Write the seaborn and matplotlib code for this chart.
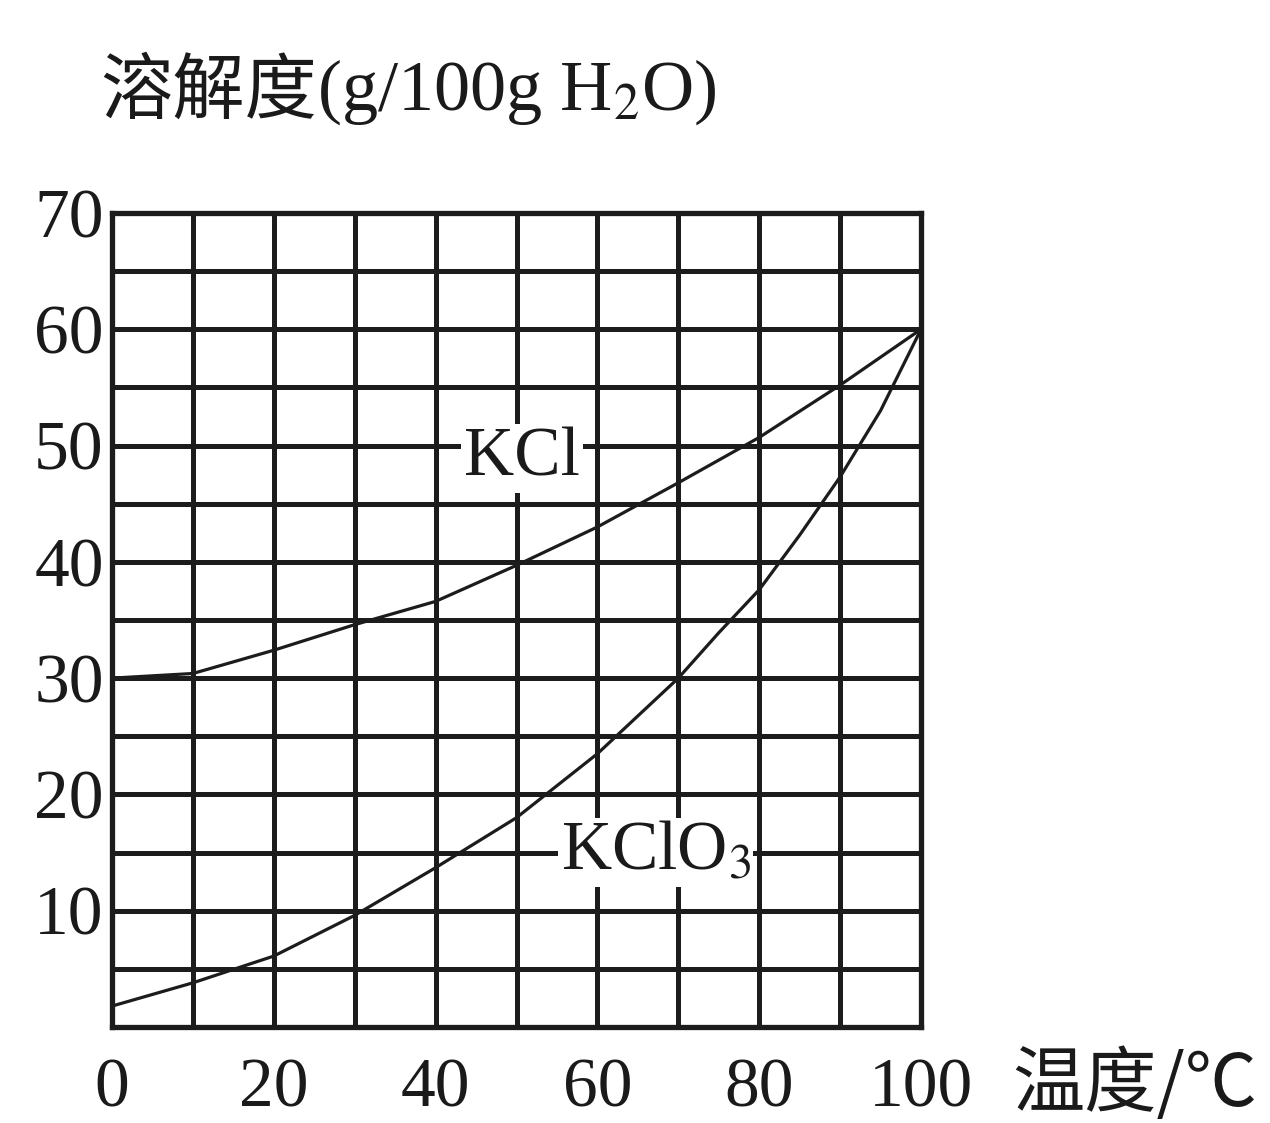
import matplotlib
matplotlib.use("Agg")
import matplotlib.pyplot as plt
import seaborn as sns
import pandas as pd
import numpy as np

# ---- data ----
kcl_t = [0, 10, 20, 30, 40, 50, 60, 70, 80, 90, 100]
kcl = [30.0, 30.4, 32.4, 34.6, 36.6, 39.7, 43.0, 46.8, 50.7, 55.2, 60.0]
kclo3_t = [0, 10, 20, 30, 40, 50, 60, 70, 75, 80, 85, 90, 95, 100]
kclo3 = [1.8, 3.8, 6.1, 9.6, 13.7, 18.0, 23.5, 30.0, 33.9, 37.6, 42.3, 47.3, 53.0, 60.0]
x_tick_labels = ["0", "20", "40", "60", "80", "100"]
y_tick_labels = ["10", "20", "30", "40", "50", "60", "70"]
series_labels = ["KCl", "KClO$_3$"]

sns.set_theme(style="white")
plt.rcParams["font.family"] = ["Liberation Serif", "Noto Sans CJK SC", "DejaVu Sans"]
plt.rcParams["mathtext.fontset"] = "stix"

df = pd.DataFrame({
    "t": kcl_t + kclo3_t,
    "s": kcl + kclo3,
    "name": ["KCl"] * len(kcl_t) + ["KClO3"] * len(kclo3_t),
})

fig = plt.figure(figsize=(12.7, 11.23), dpi=100)
ax = fig.add_axes([112 / 1270, 1 - 1027 / 1123, (921 - 112) / 1270, (1027 - 213) / 1123])

line_color = "#1c1c1c"
sns.lineplot(data=df, x="t", y="s", units="name", estimator=None, color=line_color,
             lw=2.3, ax=ax, legend=False, zorder=3)

ax.set_xlim(0, 100)
ax.set_ylim(0, 70)
ax.set_xticks(np.arange(0, 101, 10))
ax.set_xticklabels([x_tick_labels[i // 2] if i % 2 == 0 else "" for i in range(11)])
ax.set_yticks(np.arange(0, 71, 5))
ylabs = []
for v in np.arange(0, 71, 5):
    s = str(int(v))
    ylabs.append(s if s in y_tick_labels else "")
ax.set_yticklabels(ylabs)
ax.grid(True, color=line_color, lw=3.6, zorder=1)
ax.set_axisbelow(True)
for sp in ax.spines.values():
    sp.set_color(line_color)
    sp.set_linewidth(3.8)
ax.tick_params(axis="both", length=0, labelsize=50, colors="#1a1a1a")
ax.tick_params(axis="x", pad=22)
ax.tick_params(axis="y", pad=6)
ax.set_xlabel("")
ax.set_ylabel("")

# curve labels with white background
ax.text(50.7, 48.9, series_labels[0], fontsize=50, ha="center", va="center",
        color="#1a1a1a", zorder=4,
        bbox=dict(facecolor="white", edgecolor="none", pad=2))
ax.text(67.2, 15.0, series_labels[1], fontsize=50, ha="center", va="center",
        color="#1a1a1a", zorder=4,
        bbox=dict(facecolor="white", edgecolor="none", pad=2))

# y-axis title: Chinese part + serif part
t1 = fig.text(100 / 1270, 1 - 92 / 1123, "溶解度", fontsize=52,
              family=["Noto Sans CJK SC", "DejaVu Sans"],
              ha="left", va="center", color="#1a1a1a")
fig.canvas.draw()
bb = t1.get_window_extent(renderer=fig.canvas.get_renderer())
fig.text(bb.x1 / fig.bbox.width, 1 - 92 / 1123, "(g/100g H$_2$O)", fontsize=52,
         family=["Liberation Serif"], ha="left", va="center", color="#1a1a1a")

# x-axis title
fig.text(1012 / 1270, 1 - 1085 / 1123, "温度/℃", fontsize=52,
         family=["Noto Sans CJK SC", "DejaVu Sans"],
         ha="left", va="center", color="#1a1a1a")

fig.savefig("out.png", dpi=100, facecolor="white")
